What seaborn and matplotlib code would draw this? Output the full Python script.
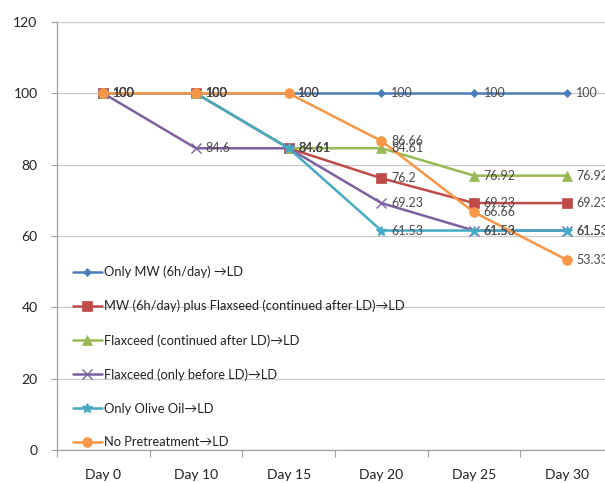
import matplotlib
matplotlib.use("Agg")
import matplotlib.pyplot as plt
import seaborn as sns
import pandas as pd

categories = ["Day 0", "Day 10", "Day 15", "Day 20", "Day 25", "Day 30"]
only_mw = [100, 100, 100, 100, 100, 100]
mw_flax = [100, 100, 84.61, 76.2, 69.23, 69.23]
flax_cont = [100, 100, 84.61, 84.61, 76.92, 76.92]
flax_before = [100, 84.6, 84.6, 69.23, 61.53, 61.53]
olive_oil = [100, 100, 84.61, 61.53, 61.53, 61.53]
no_pretreat = [100, 100, 100, 86.66, 66.66, 53.33]

series_names = [
    "Only MW (6h/day) \u2192LD",
    "MW (6h/day) plus Flaxseed (continued after LD)\u2192LD",
    "Flaxceed (continued after LD)\u2192LD",
    "Flaxceed (only before LD)\u2192LD",
    "Only Olive Oil\u2192LD",
    "No Pretreatment\u2192LD",
]
series_values = [only_mw, mw_flax, flax_cont, flax_before, olive_oil, no_pretreat]
colors = ["#4A7EBB", "#BE4B48", "#98B954", "#7D60A0", "#46AAC5", "#F79646"]
markers = ["D", "s", "^", "x", "*", "o"]
msizes = [4.5, 7, 7, 6.5, 7.5, 7]

sns.set_theme(style="white")
plt.rcParams["font.family"] = ["Lato", "DejaVu Sans"]

fig = plt.figure(figsize=(6.05, 4.83), dpi=100)
ax = fig.add_axes([57/605, 1 - 450/483, 556/605, 428/483])

rows = []
for name, vals in zip(series_names, series_values):
    for i, v in enumerate(vals):
        rows.append({"series": name, "x": i, "y": v})
df = pd.DataFrame(rows)

for name, col, mk, ms in zip(series_names, colors, markers, msizes):
    sub = df[df["series"] == name]
    sns.lineplot(data=sub, x="x", y="y", ax=ax, color=col, marker=mk,
                 markersize=ms, linewidth=1.8, label=name,
                 markeredgecolor=col, markeredgewidth=1.0 if mk in ("x", "*") else 0.5)

# data labels
for vals in series_values:
    for i, v in enumerate(vals):
        lab = f"{v:g}"
        ax.annotate(lab, (i, v), xytext=(7, 0), textcoords="offset points",
                    ha="left", va="center", fontsize=9, color="#4a4a4a",
                    annotation_clip=False)

ax.set_xlim(-0.5, 5.5)
ax.set_ylim(0, 120)
ax.set_yticks(range(0, 121, 20))
ax.set_xticks(range(len(categories)))
ax.set_xticklabels(categories)
ax.set_xticks([i - 0.5 for i in range(len(categories) + 1)], minor=True)
ax.tick_params(axis="x", which="major", length=0, pad=14, labelsize=10, labelcolor="#222222")
ax.tick_params(axis="x", which="minor", length=5, color="#A0A0A0", width=0.8, direction="out", bottom=True)
ax.tick_params(axis="y", length=4, color="#A0A0A0", width=0.8, labelsize=10, labelcolor="#222222", left=True, pad=10)
ax.set_xlabel("")
ax.set_ylabel("")
ax.yaxis.grid(True, color="#C8C8C8", linewidth=0.9)
ax.xaxis.grid(False)
for s in ["top", "right"]:
    ax.spines[s].set_visible(False)
for s in ["left", "bottom"]:
    ax.spines[s].set_color("#A0A0A0")
    ax.spines[s].set_linewidth(0.9)

leg = ax.legend(loc="lower left", bbox_to_anchor=(0.02, -0.008), frameon=False,
                fontsize=9.3, labelspacing=1.68, handlelength=2.2, handletextpad=0.2,
                borderaxespad=0.0)
for t in leg.get_texts():
    t.set_color("#222222")

fig.savefig("out.png", dpi=100)
